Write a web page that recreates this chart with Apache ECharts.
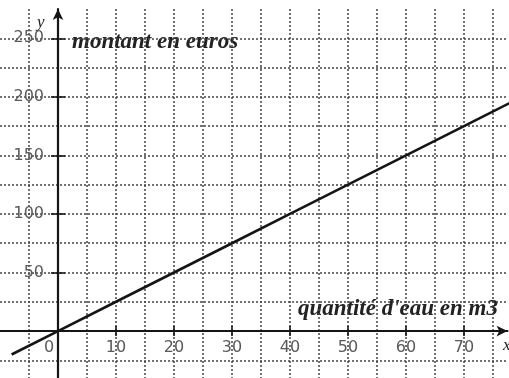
<!DOCTYPE html>
<html>
<head>
<meta charset="utf-8">
<script src="https://cdn.jsdelivr.net/npm/echarts@6/dist/echarts.min.js"></script>
<style>
html,body{margin:0;padding:0;background:#fff;}
#chart{width:509px;height:378px;}
</style>
</head>
<body>
<div id="chart"></div>
<script>
// Data
const xTickLabels = [0, 10, 20, 30, 40, 50, 60, 70];
const yTickLabels = [50, 100, 150, 200, 250];
const quantite = [-8, 0, 10, 20, 30, 40, 50, 60, 70, 80];
const montant = [-20, 0, 25, 50, 75, 100, 125, 150, 175, 200];
const xAxisTitle = "quantité d'eau en m3";
const yAxisTitle = 'montant en euros';

const chart = echarts.init(document.getElementById('chart'));
const ink = '#151515';
const gridLine = { show: true, showMinLine: false, showMaxLine: false,
  lineStyle: { color: '#444', width: 1.5, type: [2, 2] } };
const labelFont = { color: '#5a5a5a', fontFamily: 'DejaVu Sans', fontSize: 16 };
const tickStyle = { color: ink, width: 1.6 };

// x range -10..77.5, y range -50..275 in grid 0; grid 1 starts at the origin
const X0 = -10, X1 = 77.5, Y0 = -50, Y1 = 275;

function mainAxis(min, max, interval, position) {
  return { type: 'value', gridIndex: 0, min, max, interval, position,
    axisLine: { show: true, onZero: true, onZeroAxisIndex: 0, symbol: ['none', 'arrow'], symbolSize: [8, 11],
      lineStyle: { color: ink, width: 2.2 } },
    axisTick: { show: false }, axisLabel: { show: false }, splitLine: gridLine };
}
function tickAxis(min, max, position, ticks, inside, len) {
  return { type: 'value', gridIndex: 0, min, max, position,
    axisLine: { show: false, onZero: true, onZeroAxisIndex: 0 },
    axisTick: { show: true, inside, length: len, customValues: ticks, lineStyle: tickStyle },
    axisLabel: { show: false }, splitLine: { show: false } };
}
function labelAxis(min, max, position, labels, margin, extra) {
  return { type: 'value', gridIndex: 1, min, max, position,
    axisLine: { show: false, onZero: false }, axisTick: { show: false }, splitLine: { show: false },
    axisLabel: Object.assign({ show: true, customValues: labels, margin, ...labelFont }, extra || {}) };
}

const option = {
  backgroundColor: '#fff',
  animation: false,
  grid: [
    { left: 0, right: 1.5, top: 9, bottom: -11.6, outerBoundsMode: 'none' },
    { left: 58, right: 1.5, top: 9, bottom: 46.95, outerBoundsMode: 'none' }
  ],
  xAxis: [
    mainAxis(X0, X1, 5, 'bottom'),
    tickAxis(X0, X1, 'bottom', xTickLabels.slice(1), true, 5),
    tickAxis(X0, X1, 'bottom', xTickLabels.slice(1), false, 5),
    labelAxis(0, X1, 'bottom', xTickLabels, 9, {
      formatter: v => v === 0 ? '{z|0}' : String(v),
      rich: { z: { ...labelFont, padding: [0, 18, 0, 0] } } })
  ],
  yAxis: [
    mainAxis(Y0, Y1, 25, 'left'),
    tickAxis(Y0, Y1, 'left', yTickLabels, true, 7),
    tickAxis(Y0, Y1, 'left', yTickLabels, false, 7),
    labelAxis(0, Y1, 'left', yTickLabels, 14)
  ],
  series: [{
    type: 'line', xAxisIndex: 0, yAxisIndex: 0,
    data: quantite.map((q, i) => [q, montant[i]]),
    showSymbol: false, clip: true,
    lineStyle: { color: ink, width: 2.6 }
  }],
  graphic: [
    { type: 'text', left: 72, top: 31, silent: true,
      style: { text: yAxisTitle, font: 'italic bold 23px "Liberation Serif"', fill: '#222' } },
    { type: 'text', left: 298, top: 298, silent: true,
      style: { text: xAxisTitle, font: 'italic bold 23px "Liberation Serif"', fill: '#222' } },
    { type: 'text', left: 37, top: 14, silent: true,
      style: { text: 'y', font: 'italic 17px "Liberation Serif"', fill: '#222' } },
    { type: 'text', left: 503, top: 337, silent: true,
      style: { text: 'x', font: 'italic 17px "Liberation Serif"', fill: '#222' } }
  ]
};
chart.setOption(option);
</script>
</body>
</html>
